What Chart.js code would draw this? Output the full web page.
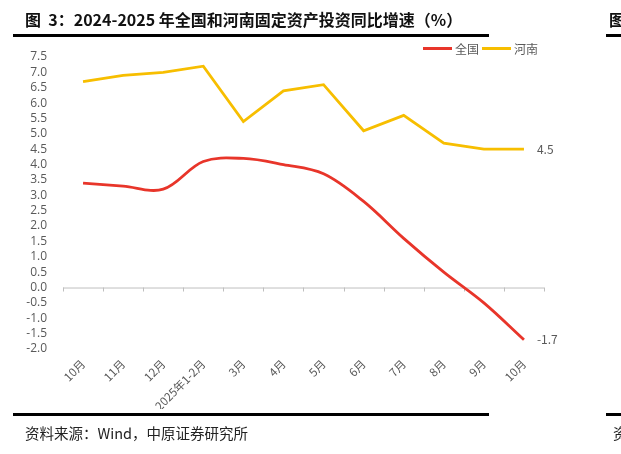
<!DOCTYPE html>
<html>
<head>
<meta charset="utf-8">
<script src="https://cdn.jsdelivr.net/npm/chart.js@4.4.1/dist/chart.umd.min.js"></script>
<style>
  html, body { margin: 0; padding: 0; background: #fff; }
  #page { position: relative; width: 621px; height: 454px; overflow: hidden; font-family: "Noto Sans CJK SC", sans-serif; }
  #chart { position: absolute; left: 0; top: 0; }
  .title { position: absolute; left: 25px; top: 7px; font-size: 16px; font-weight: bold; color: #111; white-space: nowrap; }
  .rule { position: absolute; height: 3px; background: #000; }
  .legend { position: absolute; top: 40px; left: 423px; font-size: 12px; color: #595959; display: flex; align-items: center; white-space: nowrap; }
  .legend .sw { display: inline-block; width: 29px; height: 3px; margin-right: 3px; }
  .legend .lb { margin-right: 3px; }
  .source { position: absolute; left: 25px; top: 422px; font-size: 14.5px; color: #222; white-space: nowrap; }
</style>
</head>
<body>
<div id="page">
  <canvas id="chart" width="621" height="454"></canvas>
  <div class="title">图&nbsp;&nbsp;3：2024-2025 年全国和河南固定资产投资同比增速（%）</div>
  <div class="title" style="left:609px">图</div>
  <div class="rule" style="left:13px; top:34px; width:476px"></div>
  <div class="rule" style="left:606px; top:34px; width:20px"></div>
  <div class="legend">
    <span class="sw" style="background:#E8352A"></span><span class="lb">全国</span>
    <span class="sw" style="background:#F7BE00"></span><span class="lb">河南</span>
  </div>
  <div class="rule" style="left:13px; top:413px; width:476px"></div>
  <div class="rule" style="left:606px; top:413px; width:20px"></div>
  <div class="source">资料来源：Wind，中原证券研究所</div>
  <div class="source" style="left:613px">资</div>
</div>

<script>
// Données
const categories = ['10月', '11月', '12月', '2025年1-2月', '3月', '4月', '5月', '6月', '7月', '8月', '9月', '10月'];
const national = [3.4, 3.3, 3.2, 4.1, 4.2, 4.0, 3.7, 2.8, 1.6, 0.5, -0.5, -1.7];
const henan = [6.7, 6.9, 7.0, 7.2, 5.4, 6.4, 6.6, 5.1, 5.6, 4.7, 4.5, 4.5];
const yMin = -2.0;
const yMax = 7.5;
const yStep = 0.5;

const textGray = '#595959';

// Ligne du zéro avec petites graduations, et étiquette du dernier point
const zeroLinePlugin = {
  id: 'zeroLine',
  beforeDatasetsDraw(chart) {
    const { ctx, scales: { x, y } } = chart;
    const y0 = y.getPixelForValue(0);
    const half = (x.getPixelForValue(1) - x.getPixelForValue(0)) / 2;
    ctx.save();
    ctx.strokeStyle = '#BFBFBF';
    ctx.lineWidth = 1;
    ctx.beginPath();
    ctx.moveTo(chart.chartArea.left, y0 + 0.5);
    ctx.lineTo(chart.chartArea.right, y0 + 0.5);
    for (let i = 0; i <= categories.length; i++) {
      const px = Math.round(x.getPixelForValue(i) - half) + 0.5;
      ctx.moveTo(px, y0);
      ctx.lineTo(px, y0 + 4);
    }
    ctx.stroke();
    ctx.restore();
  },
  afterDatasetsDraw(chart) {
    const { ctx } = chart;
    ctx.save();
    ctx.font = '12px "Noto Sans CJK SC", sans-serif';
    ctx.fillStyle = textGray;
    ctx.textBaseline = 'middle';
    chart.data.datasets.forEach((ds, i) => {
      const meta = chart.getDatasetMeta(i);
      const last = meta.data[meta.data.length - 1];
      ctx.fillText(ds.data[ds.data.length - 1].toFixed(1), last.x + 13, last.y);
    });
    ctx.restore();
  }
};

new Chart(document.getElementById('chart'), {
  type: 'line',
  data: {
    labels: categories,
    datasets: [
      {
        label: '全国',
        data: national,
        borderColor: '#E8352A',
        borderWidth: 2.8,
        pointRadius: 0,
        tension: 0.35,
        fill: false
      },
      {
        label: '河南',
        data: henan,
        borderColor: '#F7BE00',
        borderWidth: 2.8,
        pointRadius: 0,
        tension: 0,
        fill: false
      }
    ]
  },
  options: {
    responsive: false,
    animation: false,
    layout: {
      padding: { top: 57, right: 77, bottom: 45, left: 0 }
    },
    plugins: {
      legend: { display: false },
      title: { display: false },
      tooltip: { enabled: false }
    },
    scales: {
      x: {
        offset: true,
        grid: { display: false },
        border: { display: false },
        ticks: {
          color: textGray,
          font: { size: 11.5, family: '"Noto Sans CJK SC", sans-serif' },
          maxRotation: 45,
          minRotation: 45,
          autoSkip: false,
          padding: 0
        },
        afterFit(scale) { scale.height = 60; }
      },
      y: {
        min: yMin,
        max: yMax,
        grid: { display: false },
        border: { display: false },
        ticks: {
          stepSize: yStep,
          autoSkip: false,
          color: textGray,
          padding: 8,
          font: { size: 12, family: '"Open Sans", "Noto Sans", sans-serif' },
          callback: v => v.toFixed(1)
        },
        afterFit(scale) { scale.width = 63; }
      }
    }
  },
  plugins: [zeroLinePlugin]
});
</script>
</body>
</html>
